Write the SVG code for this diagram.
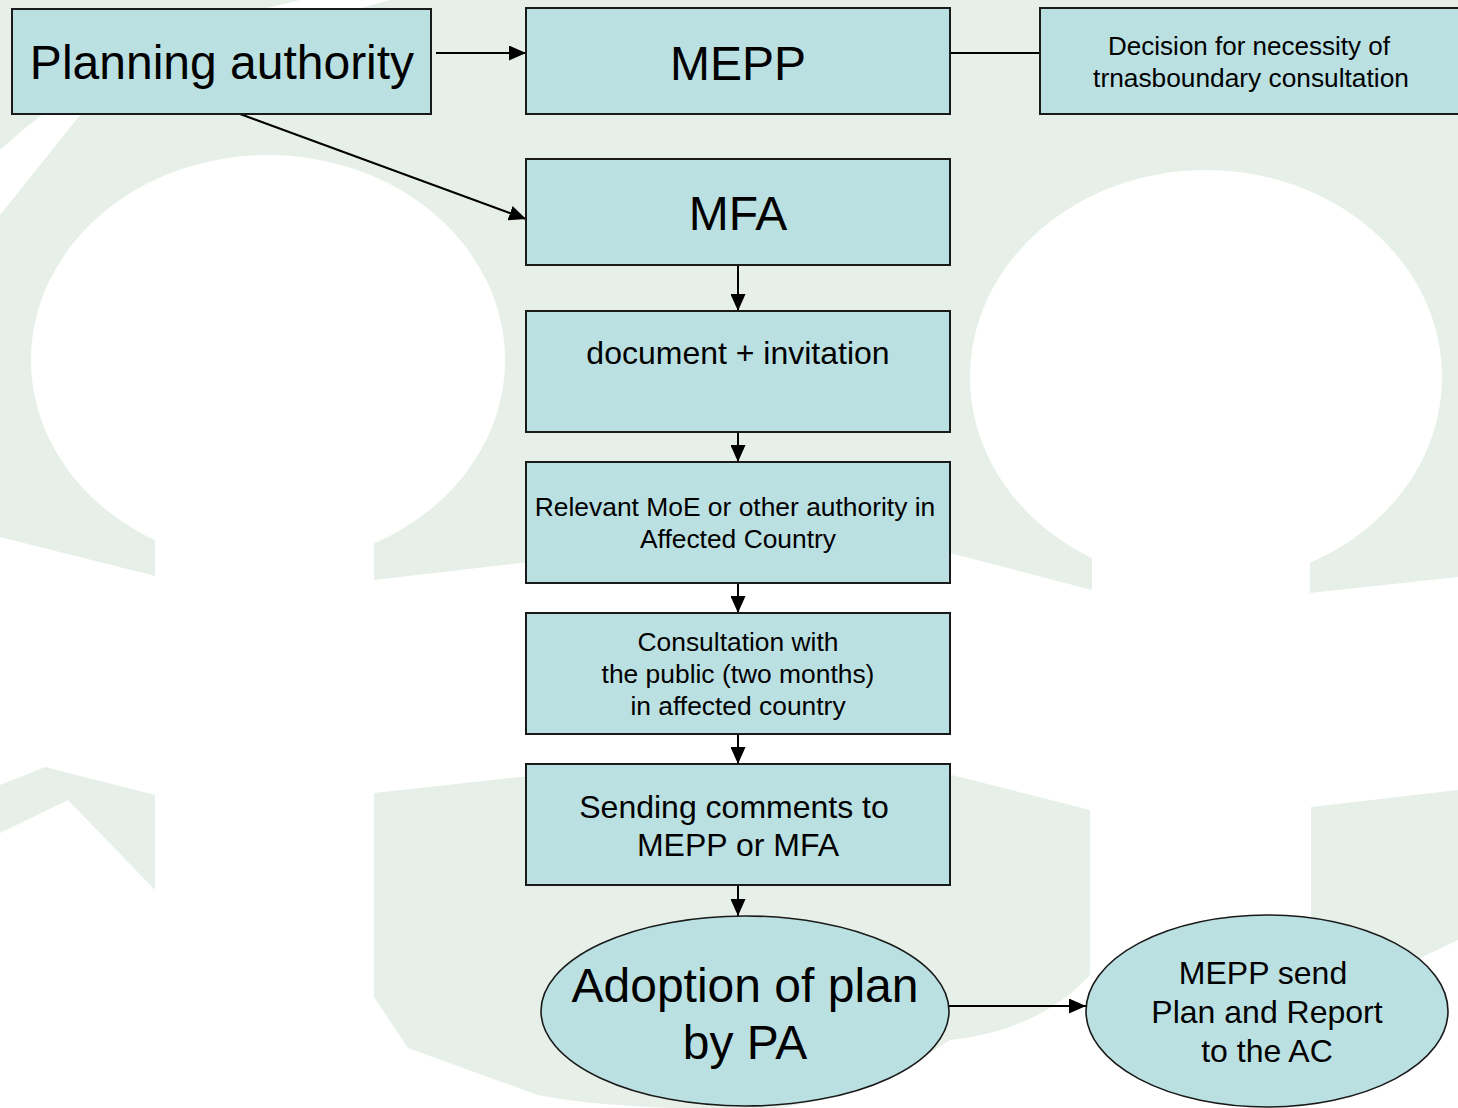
<svg xmlns="http://www.w3.org/2000/svg" width="1458" height="1108" viewBox="0 0 1458 1108">
<defs>
<style>
.bg{fill:#e6f0e8;stroke:none}
.wh{fill:#ffffff;stroke:none}
.box{fill:#bbe0e2;stroke:#1a1a1a;stroke-width:2}
.ell{fill:#bbe0e2;stroke:#1a1a1a;stroke-width:1.6}
.t{font-family:"Liberation Sans",Arial,sans-serif;fill:#000;text-anchor:middle}
.c{stroke:#000;stroke-width:2;fill:none}
</style>
<marker id="ah" markerUnits="userSpaceOnUse" markerWidth="17" markerHeight="15" refX="17" refY="7.5" orient="auto">
<path d="M0,0 L17,7.5 L0,15 Z" fill="#000"/>
</marker>
</defs>
<g id="background">
<rect x="0" y="0" width="1458" height="1108" class="wh"/>
<path class="bg" d="M0,0 L1458,0 L1458,577 L1310,593 L1092,590 L950,553 L740,545 L530,562 L374,580 L155,576 L0,537 Z"/>
<path class="wh" d="M300,0 L390,0 Q170,60 80,115 L0,215 L0,150 Q120,40 300,0 Z"/>
<ellipse class="wh" cx="268" cy="360" rx="237" ry="205"/>
<ellipse class="wh" cx="1206" cy="377" rx="236" ry="207"/>
<rect class="wh" x="155" y="520" width="219" height="90"/>
<rect class="wh" x="1092" y="540" width="218" height="70"/>
<path class="bg" d="M0,785 L45,767 L155,795 L155,890 L68,800 L0,833 Z"/>
<path class="bg" d="M374,793 L520,777 L753,770 L940,772 L1090,810 L1090,975 Q1040,1030 950,1040 Q850,1108 745,1110 Q600,1108 538,1095 L408,1048 L374,997 Z"/>
<path class="bg" d="M1311,807 L1458,790 L1458,940 L1311,1010 Z"/>
</g>
<g id="connectors">
<line class="c" x1="436" y1="53" x2="526" y2="53" marker-end="url(#ah)"/>
<line class="c" x1="950" y1="53" x2="1040" y2="53"/>
<line class="c" x1="240" y1="114" x2="526" y2="219" marker-end="url(#ah)"/>
<line class="c" x1="738" y1="265" x2="738" y2="311" marker-end="url(#ah)"/>
<line class="c" x1="738" y1="432" x2="738" y2="462" marker-end="url(#ah)"/>
<line class="c" x1="738" y1="583" x2="738" y2="613" marker-end="url(#ah)"/>
<line class="c" x1="738" y1="734" x2="738" y2="764" marker-end="url(#ah)"/>
<line class="c" x1="738" y1="885" x2="738" y2="916" marker-end="url(#ah)"/>
<line class="c" x1="949" y1="1006" x2="1086" y2="1006" marker-end="url(#ah)"/>
</g>
<g id="planning-authority">
<rect class="box" x="12" y="9" width="419" height="105"/>
<text class="t" x="222" y="79" font-size="48">Planning authority</text>
</g>
<g id="mepp">
<rect class="box" x="526" y="8" width="424" height="106"/>
<text class="t" x="738" y="80" font-size="48">MEPP</text>
</g>
<g id="decision">
<rect class="box" x="1040" y="8" width="430" height="106"/>
<text class="t" x="1249" y="55" font-size="26">Decision for necessity of</text>
<text class="t" x="1251" y="87" font-size="26.3">trnasboundary consultation</text>
</g>
<g id="mfa">
<rect class="box" x="526" y="159" width="424" height="106"/>
<text class="t" x="738" y="230" font-size="48">MFA</text>
</g>
<g id="document">
<rect class="box" x="526" y="311" width="424" height="121"/>
<text class="t" x="738" y="364" font-size="32">document + invitation</text>
</g>
<g id="relevant">
<rect class="box" x="526" y="462" width="424" height="121"/>
<text class="t" x="735" y="516" font-size="26.4">Relevant MoE or other authority in</text>
<text class="t" x="738" y="548" font-size="26.4">Affected Country</text>
</g>
<g id="consultation">
<rect class="box" x="526" y="613" width="424" height="121"/>
<text class="t" x="738" y="651" font-size="26.4">Consultation with</text>
<text class="t" x="738" y="683" font-size="26.4">the public (two months)</text>
<text class="t" x="738" y="715" font-size="26.4">in affected country</text>
</g>
<g id="sending">
<rect class="box" x="526" y="764" width="424" height="121"/>
<text class="t" x="734" y="818" font-size="32">Sending comments to</text>
<text class="t" x="738" y="856" font-size="32">MEPP or MFA</text>
</g>
<g id="adoption">
<ellipse class="ell" cx="745" cy="1011" rx="204" ry="95"/>
<text class="t" x="745" y="1002" font-size="48">Adoption of plan</text>
<text class="t" x="745" y="1059" font-size="48">by PA</text>
</g>
<g id="mepp-send">
<ellipse class="ell" cx="1267" cy="1011" rx="181" ry="96"/>
<text class="t" x="1263" y="984" font-size="32">MEPP send</text>
<text class="t" x="1267" y="1023" font-size="32">Plan and Report</text>
<text class="t" x="1267" y="1062" font-size="32">to the AC</text>
</g>
</svg>
